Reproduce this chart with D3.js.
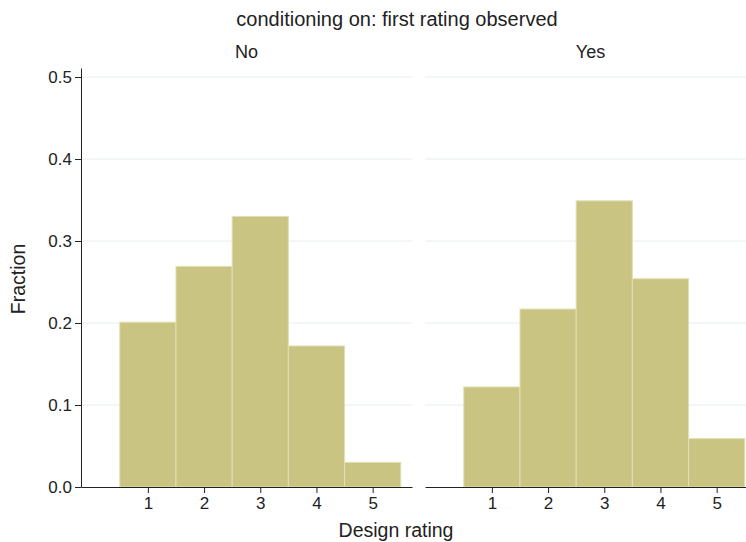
<!DOCTYPE html>
<html>
<head>
<meta charset="utf-8">
<script src="https://cdn.jsdelivr.net/npm/d3@7"></script>
<style>
  body { margin: 0; background: #fff; }
  svg { display: block; font-family: "Liberation Sans", Arial, sans-serif; }
</style>
</head>
<body>
<svg id="chart" width="746" height="542"></svg>
<script>
var ratings = [1, 2, 3, 4, 5]
var panelNames = ["No", "Yes"]
var fractionNo = [0.201, 0.269, 0.330, 0.172, 0.030]
var fractionYes = [0.122, 0.217, 0.349, 0.254, 0.059]
var yTicks = [0, 0.1, 0.2, 0.3, 0.4, 0.5]

var svg = d3.select("#chart")
var panelWidth = 331
var panelLeft = [81, 425]
var barFill = "#cac482"
var barStroke = "#e2dfb4"
var gridColor = "#e6eef0"

var yScale = d3.scaleLinear().domain([0, 0.511]).range([487, 68])

var series = [fractionNo, fractionYes]

panelNames.forEach(function(name, p) {
  var x0 = panelLeft[p]
  var xScale = d3.scaleLinear().domain([-0.19, 5.7]).range([x0, x0 + panelWidth])
  var g = svg.append("g")

  // gridlines
  g.selectAll(".grid").data(yTicks.filter(function(d) { return d > 0 }))
    .enter().append("line")
    .attr("x1", x0).attr("x2", x0 + panelWidth)
    .attr("y1", function(d) { return yScale(d) })
    .attr("y2", function(d) { return yScale(d) })
    .attr("stroke", gridColor).attr("stroke-width", 1)

  // bars
  g.selectAll(".bar").data(ratings)
    .enter().append("rect")
    .attr("x", function(d) { return xScale(d - 0.5) })
    .attr("width", function(d) { return xScale(d + 0.5) - xScale(d - 0.5) })
    .attr("y", function(d, i) { return yScale(series[p][i]) })
    .attr("height", function(d, i) { return yScale(0) - yScale(series[p][i]) })
    .attr("fill", barFill)
    .attr("stroke", barStroke).attr("stroke-width", 1)

  // x axis
  var xAxis = g.append("g")
    .attr("transform", "translate(0," + yScale(0) + ")")
    .call(d3.axisBottom(xScale).tickValues(ratings).tickFormat(d3.format("d"))
      .tickSize(6).tickPadding(4).tickSizeOuter(0))
  xAxis.select(".domain").attr("stroke", "#222")
  xAxis.selectAll(".tick line").attr("stroke", "#222")
  xAxis.selectAll("text").attr("font-size", 17).attr("fill", "#222")
    .attr("font-family", "Liberation Sans, Arial, sans-serif")

  // panel title
  g.append("text")
    .attr("x", x0 + panelWidth / 2).attr("y", 58)
    .attr("text-anchor", "middle").attr("font-size", 18).attr("fill", "#222")
    .text(name)

  if (p === 0) {
    var yAxis = g.append("g")
      .attr("transform", "translate(" + x0 + ",0)")
      .call(d3.axisLeft(yScale).tickValues(yTicks).tickFormat(d3.format(".1f")).tickSize(6).tickPadding(3).tickSizeOuter(0))
    yAxis.select(".domain").attr("stroke", "#222")
    yAxis.selectAll(".tick line").attr("stroke", "#222")
    yAxis.selectAll("text").attr("font-size", 17).attr("fill", "#222")
      .attr("font-family", "Liberation Sans, Arial, sans-serif")
  }
})

svg.append("text")
  .attr("x", 397).attr("y", 26)
  .attr("text-anchor", "middle").attr("font-size", 20).attr("fill", "#222")
  .text("conditioning on: first rating observed")

svg.append("text")
  .attr("x", 396).attr("y", 537)
  .attr("text-anchor", "middle").attr("font-size", 19.5).attr("fill", "#222")
  .text("Design rating")

svg.append("text")
  .attr("transform", "translate(25,279) rotate(-90)")
  .attr("text-anchor", "middle").attr("font-size", 19.5).attr("fill", "#222")
  .text("Fraction")
</script>
</body>
</html>
